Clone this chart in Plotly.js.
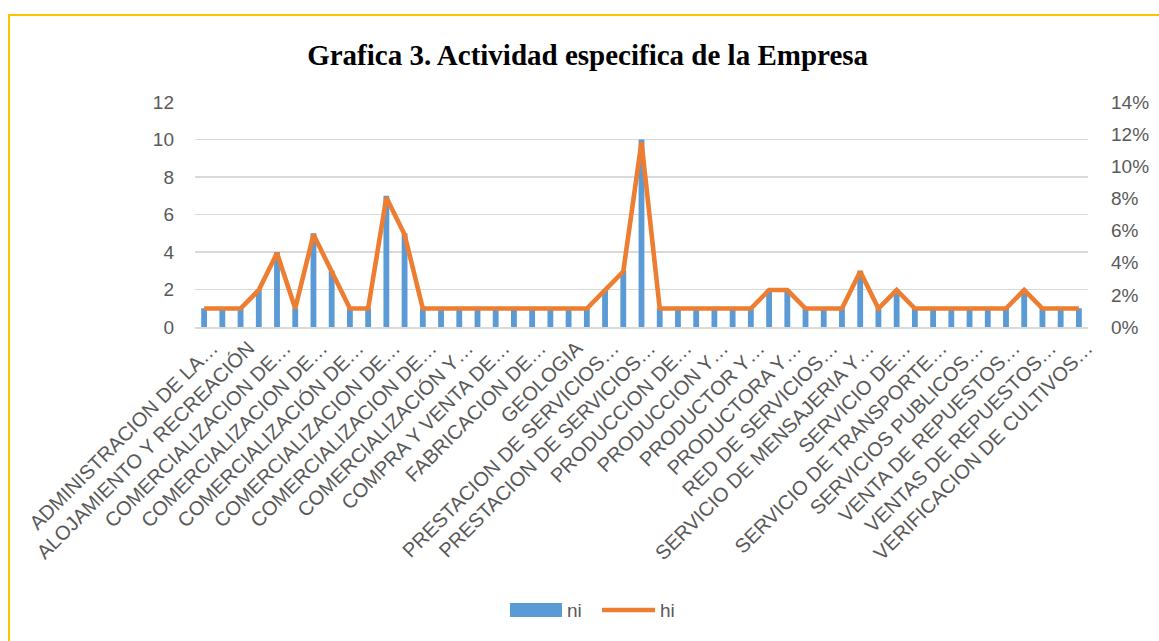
<!DOCTYPE html>
<html>
<head>
<meta charset="utf-8">
<script src="https://cdn.plot.ly/plotly-3.0.1.min.js"></script>
<style>
  html, body { margin: 0; padding: 0; background: #ffffff; }
  #chart { width: 1159px; height: 641px; position: relative; }
  #frame { position: absolute; left: 8px; top: 14px; width: 1300px; height: 800px;
           border-top: 2px solid #FFC000; border-left: 2px solid #FFC000; pointer-events: none; }
</style>
</head>
<body>
<div id="chart"><div id="frame"></div></div>
<script>
// Visible category labels (Excel shows every other category)
const categoryLabels = [
  "ADMINISTRACION DE LA…",
  "ALOJAMIENTO Y RECREACIÓN",
  "COMERCIALIZACION DE…",
  "COMERCIALIZACION DE…",
  "COMERCIALIZACIÓN DE…",
  "COMERCIALIZACION DE…",
  "COMERCIALIZACION DE…",
  "COMERCIALIZACIÓN Y…",
  "COMPRA Y VENTA DE…",
  "FABRICACION DE…",
  "GEOLOGIA",
  "PRESTACION DE SERVICIOS…",
  "PRESTACION DE SERVICIOS…",
  "PRODUCCION DE…",
  "PRODUCCION Y…",
  "PRODUCTOR Y…",
  "PRODUCTORA Y…",
  "RED DE SERVICIOS…",
  "SERVICIO DE MENSAJERIA Y…",
  "SERVICIO DE…",
  "SERVICIO DE TRANSPORTE…",
  "SERVICIOS PUBLICOS…",
  "VENTA DE REPUESTOS…",
  "VENTAS DE REPUESTOS…",
  "VERIFICACION DE CULTIVOS…"
];

// ni: frequency per activity (49 activities)
const ni = [1,1,1,2,4,1,5,3,1,1,7,5,1,1,1,1,1,1,1,1,1,1,2,3,10,1,1,1,1,1,1,2,2,1,1,1,3,1,2,1,1,1,1,1,1,2,1,1,1];

// hi: relative frequency
const hi = [0.0115,0.0115,0.0115,0.023,0.046,0.0115,0.0575,0.0345,0.0115,0.0115,0.0805,0.0575,0.0115,0.0115,0.0115,0.0115,0.0115,0.0115,0.0115,0.0115,0.0115,0.0115,0.023,0.0345,0.115,0.0115,0.0115,0.0115,0.0115,0.0115,0.0115,0.023,0.023,0.0115,0.0115,0.0115,0.0345,0.0115,0.023,0.0115,0.0115,0.0115,0.0115,0.0115,0.0115,0.023,0.0115,0.0115,0.0115];

const seriesNames = ["ni", "hi"];
const seriesColors = ["#5B9BD5", "#ED7D31"];

const leftTicks = [0,2,4,6,8,10,12];
const rightTicks = [0,0.02,0.04,0.06,0.08,0.10,0.12,0.14];

const xIdx = ni.map((_, i) => i);
const labelPos = categoryLabels.map((_, k) => k * 2);

const W = 1159, H = 641, ML = 195, MR = 71, MT = 102, MB = 314;
const PW = W - ML - MR, PH = H - MT - MB;
const px2x = p => (p - ML) / PW;
const py2y = p => (H - MB - p) / PH;

const sansFont = "Liberation Sans, Arial, sans-serif";
const tickFont = { family: sansFont, size: 19, color: "#595959" };

const traces = [
  {
    type: "bar", name: seriesNames[0], x: xIdx, y: ni,
    marker: { color: seriesColors[0] }, width: 0.32, yaxis: "y"
  },
  {
    type: "scatter", mode: "lines", name: seriesNames[1], x: xIdx, y: hi,
    line: { color: seriesColors[1], width: 4.6 }, yaxis: "y2"
  }
];

// Excel-style legend (wide swatch for bars, line for hi)
const legendShapes = [
  { type: "rect", xref: "paper", yref: "paper",
    x0: px2x(510), x1: px2x(562), y0: py2y(617), y1: py2y(603),
    fillcolor: seriesColors[0], line: { width: 0 } },
  { type: "line", xref: "paper", yref: "paper",
    x0: px2x(602), x1: px2x(655), y0: py2y(610), y1: py2y(610),
    line: { color: seriesColors[1], width: 4.6 } }
];
const legendAnnotations = [
  { xref: "paper", yref: "paper", x: px2x(565), y: py2y(610), xanchor: "left", yanchor: "middle",
    text: seriesNames[0], showarrow: false, font: { family: sansFont, size: 19, color: "#595959" } },
  { xref: "paper", yref: "paper", x: px2x(658), y: py2y(610), xanchor: "left", yanchor: "middle",
    text: seriesNames[1], showarrow: false, font: { family: sansFont, size: 19, color: "#595959" } }
];

const layout = {
  width: W, height: H,
  paper_bgcolor: "rgba(0,0,0,0)", plot_bgcolor: "rgba(0,0,0,0)",
  margin: { l: ML, r: MR, t: MT, b: MB },
  title: {
    text: "<b>Grafica 3. Actividad especifica de la Empresa</b>",
    font: { family: "Liberation Serif, Times New Roman, serif", size: 29, color: "#000000" },
    x: 0.507, xref: "container", xanchor: "center",
    y: 1 - 55 / 641, yref: "container", yanchor: "middle"
  },
  showlegend: false,
  shapes: legendShapes,
  annotations: legendAnnotations,
  xaxis: {
    range: [-0.5, 48.5], tickmode: "array", tickvals: labelPos, ticktext: categoryLabels,
    tickangle: -45, tickfont: { family: sansFont, size: 20, color: "#595959" },
    ticklabelshift: 8, showgrid: false, zeroline: false,
    showline: true, linecolor: "#d9d9d9", linewidth: 1.5, ticks: ""
  },
  yaxis: {
    range: [0, 12], tickmode: "array", tickvals: leftTicks, tickfont: tickFont,
    showgrid: true, gridcolor: "#d9d9d9", gridwidth: 1.5, zeroline: false,
    showline: false, ticks: "", ticklabelstandoff: 20
  },
  yaxis2: {
    range: [0, 0.14], overlaying: "y", side: "right", tickmode: "array",
    tickvals: rightTicks, tickformat: ".0%", tickfont: tickFont,
    showgrid: false, zeroline: false, showline: false, ticks: "", ticklabelstandoff: 22
  }
};

Plotly.newPlot("chart", traces, layout, { displayModeBar: false, staticPlot: true });
</script>
</body>
</html>
